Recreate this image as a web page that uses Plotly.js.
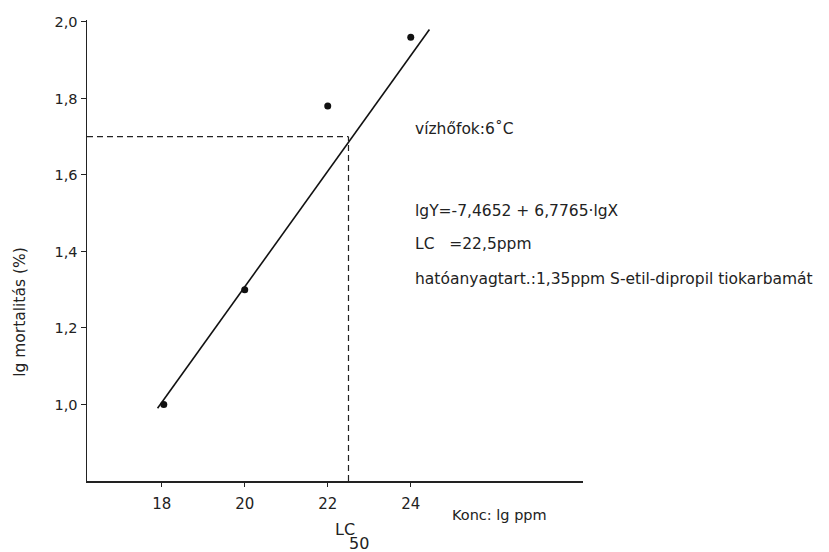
<!DOCTYPE html>
<html>
<head>
<meta charset="utf-8">
<script src="https://cdn.plot.ly/plotly-3.0.1.min.js"></script>
<style>html,body{margin:0;padding:0;background:#fff;}#chart{width:829px;height:552px;}</style>
</head>
<body>
<div id="chart"></div>
<script>
// Measured points
const concX = [18.05, 20, 22, 24];
const mortY = [1.0, 1.30, 1.78, 1.96];
// Regression line end points
const fitX = [17.9, 24.45];
const fitY = [0.99, 1.98];
// LC50 guide lines
const lc50 = 22.5;
const lc50Y = 1.7;
const guideHX = [16.2, lc50];
const guideHY = [lc50Y, lc50Y];
const guideVX = [lc50, lc50];
const guideVY = [0.8, lc50Y];
// Axis ticks
const xTicks = [18, 20, 22, 24];
const xTickText = ['18', '20', '22', '24'];
const yTicks = [1.0, 1.2, 1.4, 1.6, 1.8, 2.0];
const yTickText = ['1,0', '1,2', '1,4', '1,6', '1,8', '2,0'];
// Texts
const yTitle = 'lg mortalitás (%)';
const xTitle = 'Konc: lg ppm';
const noteLines = [
  {text: 'vízhőfok:6˚C', y: 1.72},
  {text: 'lgY=-7,4652 + 6,7765·lgX', y: 1.505},
  {text: 'LC   =22,5ppm', y: 1.42},
  {text: 'hatóanyagtart.:1,35ppm S-etil-dipropil tiokarbamát', y: 1.327}
];

const FONT = 'DejaVu Sans, sans-serif';

const traces = [
  {x: guideHX, y: guideHY, mode: 'lines', line: {color: '#222', width: 1.2, dash: '6px,4px'}, hoverinfo: 'skip'},
  {x: guideVX, y: guideVY, mode: 'lines', line: {color: '#222', width: 1.2, dash: '6px,4px'}, hoverinfo: 'skip'},
  {x: fitX, y: fitY, mode: 'lines', line: {color: '#111', width: 1.6}},
  {x: concX, y: mortY, mode: 'markers', marker: {color: '#111', size: 7}}
];

const annotations = noteLines.map(n => ({
  x: 24.05, xref: 'x', y: n.y, yref: 'y', text: n.text, showarrow: false,
  xanchor: 'left', yanchor: 'middle', font: {family: FONT, size: 15.5, color: '#222'}
}));
annotations.push({x: 22.42, xref: 'x', y: 0, yref: 'paper', yshift: -48, text: 'LC', showarrow: false,
  xanchor: 'center', yanchor: 'middle', font: {family: FONT, size: 16, color: '#222'}});
annotations.push({x: 22.75, xref: 'x', y: 0, yref: 'paper', yshift: -62, text: '50', showarrow: false,
  xanchor: 'center', yanchor: 'middle', font: {family: FONT, size: 16, color: '#222'}});
annotations.push({x: 24.95, xref: 'x', y: 0, yref: 'paper', yshift: -34, text: xTitle, showarrow: false,
  xanchor: 'left', yanchor: 'middle', font: {family: FONT, size: 14.5, color: '#222'}});
annotations.push({x: -0.135, xref: 'paper', y: 0.367, yref: 'paper', text: yTitle, showarrow: false,
  textangle: -90, xanchor: 'center', yanchor: 'middle', font: {family: FONT, size: 15.5, color: '#222'}});

const layout = {
  width: 829, height: 552,
  margin: {l: 87, r: 246, t: 20, b: 71},
  paper_bgcolor: '#fff', plot_bgcolor: '#fff',
  showlegend: false,
  font: {family: FONT, color: '#222'},
  xaxis: {
    range: [16.2, 28.15], tickvals: xTicks, ticktext: xTickText,
    showline: true, linecolor: '#222', linewidth: 1.5, showgrid: false, zeroline: false,
    ticks: 'outside', ticklen: 4, tickcolor: '#222', ticklabelstandoff: 4,
    tickfont: {family: FONT, size: 15, color: '#222'}
  },
  yaxis: {
    range: [0.8, 2.005], tickvals: yTicks, ticktext: yTickText,
    showline: true, linecolor: '#222', linewidth: 1.5, showgrid: false, zeroline: false,
    ticks: 'outside', ticklen: 5, tickcolor: '#222',
    tickfont: {family: FONT, size: 14.5, color: '#222'}
  },
  annotations: annotations
};

Plotly.newPlot('chart', traces, layout, {displayModeBar: false, staticPlot: true});
</script>
</body>
</html>
